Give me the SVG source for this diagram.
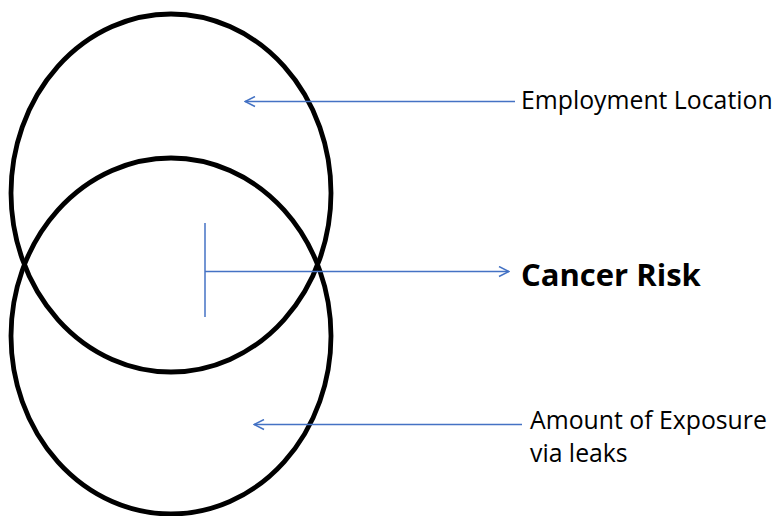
<svg xmlns="http://www.w3.org/2000/svg" width="776" height="516" viewBox="0 0 776 516">
<defs>
<style>
.ring{fill:none;stroke:#000;stroke-width:4.8}
.conn{fill:none;stroke:#4472C4;stroke-width:1.5}
.lbl{font-family:"Open Sans","Liberation Sans",sans-serif;font-size:24.8px;fill:#000}
.big{font-family:"Open Sans","Liberation Sans",sans-serif;font-size:31px;font-weight:bold;fill:#000}
</style>
<marker id="open" viewBox="0 0 12 12" refX="11" refY="6" markerWidth="12" markerHeight="12" markerUnits="userSpaceOnUse" orient="auto">
<path d="M1,1 L11,6 L1,11" fill="none" stroke="#4472C4" stroke-width="1.5"/>
</marker>
</defs>
<rect width="776" height="516" fill="#fff"/>
<g id="employment-ring"><ellipse class="ring" cx="171" cy="193" rx="160" ry="179"/></g>
<g id="exposure-ring"><ellipse class="ring" cx="171" cy="336" rx="160" ry="178"/></g>
<g id="connectors">
<line class="conn" x1="515" y1="101.5" x2="245" y2="101.5" marker-end="url(#open)"/>
<line class="conn" x1="205" y1="223" x2="205" y2="317"/>
<line class="conn" x1="205" y1="271.5" x2="509" y2="271.5" marker-end="url(#open)"/>
<line class="conn" x1="522" y1="424.5" x2="254" y2="424.5" marker-end="url(#open)"/>
</g>
<g id="employment-label"><text class="lbl" x="521" y="109">Employment Location</text></g>
<g id="cancer-label"><text class="big" x="521" y="286">Cancer Risk</text></g>
<g id="exposure-label"><text class="lbl" x="530" y="429">Amount of Exposure</text><text class="lbl" x="530" y="462">via leaks</text></g>
</svg>
